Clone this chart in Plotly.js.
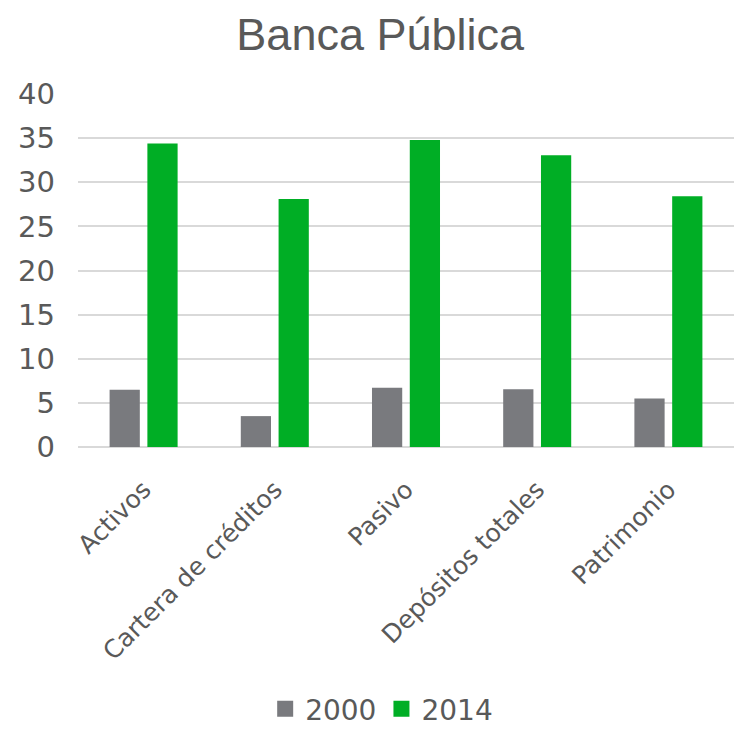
<!DOCTYPE html>
<html>
<head>
<meta charset="utf-8">
<script src="https://cdn.plot.ly/plotly-3.0.1.min.js"></script>
<style>html,body{margin:0;padding:0;background:#fff;}#chart{width:734px;height:731px;}</style>
</head>
<body>
<div id="chart"></div>
<script>
const categories = ["Activos", "Cartera de créditos", "Pasivo", "Depósitos totales", "Patrimonio"];
const values2000 = [6.5, 3.5, 6.7, 6.55, 5.5];
const values2014 = [34.4, 28.1, 34.8, 33.05, 28.4];
const seriesNames = ["2000", "2014"];
const seriesColors = ["#797a7e", "#00ae25"];
const yTicks = [0, 5, 10, 15, 20, 25, 30, 35, 40];

const TITLE_FONT = "Liberation Sans, Arial, sans-serif";
const FONT = "DejaVu Sans, sans-serif";
const TXT = "#595959";

const seriesValues = [values2000, values2014];
const data = [];
seriesNames.forEach((nm, i) => {
  data.push({type: "bar", name: nm, x: categories, y: seriesValues[i], marker: {color: seriesColors[i]}, showlegend: false, legendgroup: nm});
});
// legend-only entries (no data drawn) to show larger square swatches
seriesNames.forEach((nm, i) => {
  data.push({type: "scatter", mode: "markers", name: nm, x: [null], y: [null], marker: {symbol: "square", size: 16, color: seriesColors[i]}, showlegend: true, legendgroup: nm, hoverinfo: "skip"});
});

const layout = {
  width: 734, height: 731,
  paper_bgcolor: "#ffffff", plot_bgcolor: "#ffffff",
  margin: {l: 78, r: 0, t: 94, b: 284},
  font: {family: FONT, color: TXT},
  title: {text: "Banca Pública", font: {family: TITLE_FONT, size: 45, color: TXT}, x: 0.518, xanchor: "center", xref: "container", y: 0.953, yanchor: "middle", yref: "container"},
  barmode: "group", bargap: 0.424, bargroupgap: 0.2,
  xaxis: {type: "category", tickangle: -45, tickfont: {size: 25, color: TXT, family: FONT}, showgrid: false, showline: false, ticks: "", ticklabelstandoff: 22},
  yaxis: {range: [0, 40], tickvals: yTicks, ticktext: yTicks.map(String), tickfont: {size: 29, color: TXT, family: FONT}, gridcolor: "#d9d9d9", gridwidth: 2, zeroline: true, zerolinecolor: "#d9d9d9", zerolinewidth: 2, ticks: "", ticklabelstandoff: 22, fixedrange: true},
  showlegend: true,
  legend: {orientation: "h", x: 0.52, xref: "container", xanchor: "center", y: 0.03, yref: "container", yanchor: "middle", font: {size: 28, color: TXT, family: FONT}, itemwidth: 30, itemclick: false, tracegroupgap: 0}
};

Plotly.newPlot("chart", data, layout, {staticPlot: true, displayModeBar: false});
</script>
</body>
</html>
